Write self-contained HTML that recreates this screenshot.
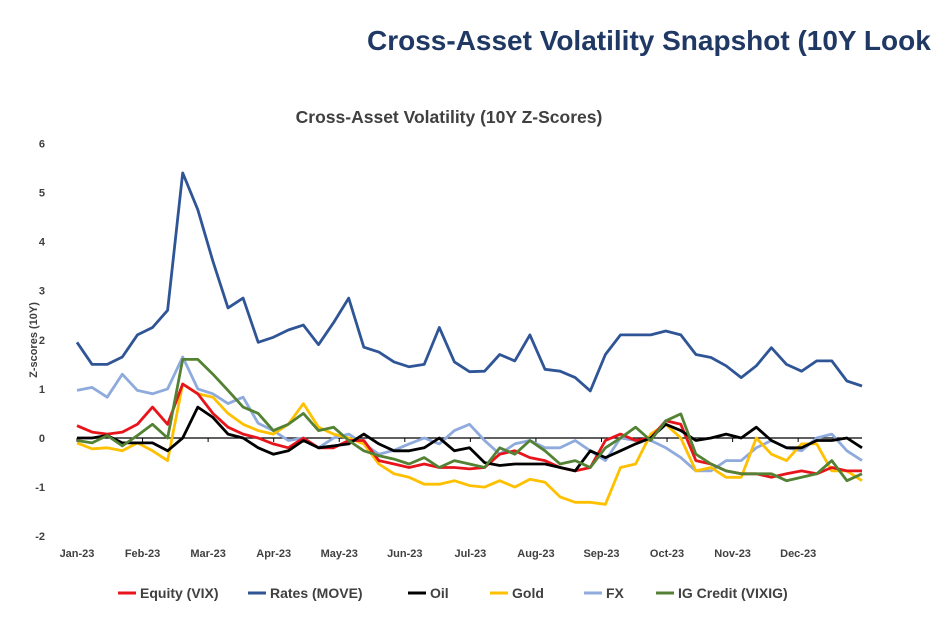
<!DOCTYPE html>
<html><head><meta charset="utf-8"><style>
html,body{margin:0;padding:0;background:#fff;width:931px;height:629px;overflow:hidden}
svg{display:block;font-family:"Liberation Sans",Arial,sans-serif}
</style></head><body>
<svg id="chart" width="931" height="629" viewBox="0 0 931 629">
<text x="367" y="50" font-size="28" font-weight="bold" fill="#1F3864">Cross-Asset Volatility Snapshot (10Y Look</text>
<text x="449" y="123" text-anchor="middle" font-size="17.5" font-weight="bold" fill="#404040">Cross-Asset Volatility (10Y Z-Scores)</text>
<text transform="translate(37,340) rotate(-90)" text-anchor="middle" font-size="11" font-weight="bold" fill="#404040">Z-scores (10Y)</text>
<g id="yticks"></g><g id="xticks"></g><g id="axis"></g><g id="series"></g><g id="legend"></g>
</svg>
<script>
const months=["Jan-23","Feb-23","Mar-23","Apr-23","May-23","Jun-23","Jul-23","Aug-23","Sep-23","Oct-23","Nov-23","Dec-23"];
const yTicks=[-2,-1,0,1,2,3,4,5,6];
const equity=[0.25,0.12,0.08,0.12,0.28,0.63,0.28,1.1,0.9,0.5,0.22,0.08,0,-0.12,-0.2,0,-0.2,-0.2,-0.05,-0.05,-0.46,-0.53,-0.6,-0.53,-0.6,-0.6,-0.63,-0.6,-0.33,-0.26,-0.4,-0.46,-0.6,-0.67,-0.6,-0.05,0.08,-0.05,0,0.35,0.28,-0.46,-0.53,-0.67,-0.73,-0.73,-0.8,-0.73,-0.67,-0.73,-0.6,-0.67,-0.67];
const rates=[1.95,1.5,1.5,1.65,2.1,2.25,2.6,5.4,4.65,3.6,2.65,2.85,1.95,2.05,2.2,2.3,1.9,2.35,2.85,1.85,1.75,1.55,1.45,1.5,2.25,1.55,1.35,1.36,1.7,1.57,2.1,1.4,1.36,1.23,0.96,1.7,2.1,2.1,2.1,2.18,2.1,1.7,1.64,1.47,1.23,1.47,1.84,1.5,1.36,1.57,1.57,1.16,1.06];
const oil=[0,0,0.05,-0.1,-0.1,-0.1,-0.26,0,0.63,0.42,0.08,0,-0.2,-0.33,-0.26,-0.05,-0.2,-0.16,-0.12,0.08,-0.12,-0.26,-0.26,-0.2,0,-0.26,-0.2,-0.5,-0.56,-0.53,-0.53,-0.53,-0.6,-0.67,-0.26,-0.4,-0.26,-0.12,0,0.28,0.15,-0.05,0,0.08,0,0.22,-0.05,-0.2,-0.2,-0.05,-0.05,0,-0.2];
const gold=[-0.1,-0.22,-0.2,-0.26,-0.1,-0.26,-0.46,1.1,0.9,0.83,0.5,0.28,0.15,0.08,0.28,0.7,0.22,0.08,0,-0.12,-0.53,-0.73,-0.8,-0.94,-0.94,-0.87,-0.97,-1.0,-0.87,-1.0,-0.84,-0.9,-1.2,-1.31,-1.31,-1.35,-0.6,-0.53,0.08,0.28,0,-0.67,-0.6,-0.8,-0.8,0,-0.33,-0.46,-0.12,-0.12,-0.67,-0.67,-0.87];
const fx=[0.97,1.03,0.83,1.3,0.97,0.9,1.0,1.65,1.0,0.9,0.7,0.83,0.3,0.15,-0.05,0,-0.2,0,0.08,-0.12,-0.33,-0.25,-0.12,0,-0.12,0.15,0.28,-0.05,-0.33,-0.12,-0.05,-0.2,-0.2,-0.05,-0.26,-0.46,0,-0.05,-0.05,-0.2,-0.4,-0.67,-0.67,-0.46,-0.46,-0.2,-0.05,-0.2,-0.26,0,0.08,-0.26,-0.46];
const credit=[-0.05,-0.1,0.05,-0.16,0.05,0.28,0,1.6,1.6,1.3,0.97,0.63,0.5,0.15,0.28,0.5,0.15,0.22,-0.05,-0.26,-0.36,-0.43,-0.53,-0.4,-0.6,-0.46,-0.53,-0.6,-0.2,-0.33,-0.05,-0.26,-0.53,-0.46,-0.6,-0.2,0,0.22,-0.05,0.35,0.49,-0.33,-0.53,-0.67,-0.73,-0.73,-0.73,-0.87,-0.8,-0.73,-0.46,-0.87,-0.73];
const seriesNames=["Equity (VIX)","Rates (MOVE)","Oil","Gold","FX","IG Credit (VIXIG)"];
const seriesColors=["#E8141B","#2F5597","#000000","#FFC000","#8FAADC","#548235"];
const legendX=[118,248,408,490,584,656];

const NS="http://www.w3.org/2000/svg";
const x0=77,x1=862,yZero=438,unit=49.1;
const xWeek=w=>x0+(x1-x0)*w/52;
const xMonth=m=>x0+(x1-x0)*(m*30.4)/364;
const y=v=>yZero-v*unit;
function mk(tag,attrs,parent){const e=document.createElementNS(NS,tag);for(const k in attrs)e.setAttribute(k,attrs[k]);parent.appendChild(e);return e;}

const yt=document.getElementById('yticks');
yTicks.forEach(v=>{const t=mk('text',{x:45,y:y(v)+4,'text-anchor':'end','font-size':11,'font-weight':'bold',fill:'#404040'},yt);t.textContent=v;

});

const xt=document.getElementById('xticks');
months.forEach((m,i)=>{const t=mk('text',{x:xMonth(i),y:557,'text-anchor':'middle','font-size':11,'font-weight':'bold',fill:'#404040'},xt);t.textContent=m;

});

const ax=document.getElementById('axis');
const zl=mk('line',{x1:x0,x2:x1,y1:yZero,y2:yZero,stroke:'#000','stroke-width':1.3},ax);


months.forEach((m,i)=>{const tk=mk('line',{x1:xMonth(i),x2:xMonth(i),y1:yZero,y2:yZero+4,stroke:'#000','stroke-width':1},ax);

});

const data=[equity,rates,oil,gold,fx,credit];
const sg=document.getElementById('series');
const order=[1,4,3,0,2,5];
order.forEach(i=>{const d=data[i].map((v,w)=>(w?'L':'M')+xWeek(w).toFixed(1)+','+y(v).toFixed(1)).join('');
const p=mk('path',{d:d,fill:'none',stroke:seriesColors[i],'stroke-width':2.8,'stroke-linejoin':'round'},sg);

});

const lg=document.getElementById('legend');
seriesNames.forEach((n,i)=>{const g=mk('g',{},lg);


mk('line',{x1:legendX[i],x2:legendX[i]+18,y1:593,y2:593,stroke:seriesColors[i],'stroke-width':3},g);
const t=mk('text',{x:legendX[i]+22,y:598,'font-size':14,'font-weight':'bold',fill:'#404040'},g);t.textContent=n;});
</script>
</body></html>
